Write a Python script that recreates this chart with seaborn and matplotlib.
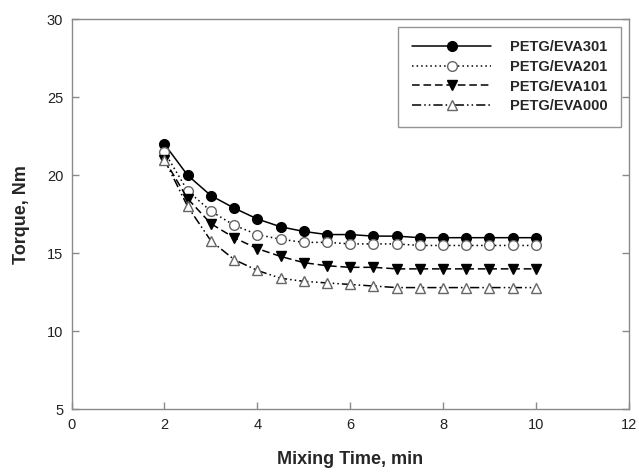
import matplotlib
matplotlib.use("Agg")
import matplotlib.pyplot as plt
import seaborn as sns
import pandas as pd

# Mixing time (min) and measured torque (Nm) for each blend
time_min = [2, 2.5, 3, 3.5, 4, 4.5, 5, 5.5, 6, 6.5, 7, 7.5, 8, 8.5, 9, 9.5, 10]
eva301 = [22.0, 20.0, 18.7, 17.9, 17.2, 16.7, 16.4, 16.2, 16.2, 16.1, 16.1, 16.0, 16.0, 16.0, 16.0, 16.0, 16.0]
eva201 = [21.5, 19.0, 17.7, 16.8, 16.2, 15.9, 15.7, 15.7, 15.6, 15.6, 15.6, 15.5, 15.5, 15.5, 15.5, 15.5, 15.5]
eva101 = [21.0, 18.5, 16.9, 16.0, 15.3, 14.8, 14.4, 14.2, 14.1, 14.1, 14.0, 14.0, 14.0, 14.0, 14.0, 14.0, 14.0]
eva000 = [21.0, 18.0, 15.8, 14.6, 13.9, 13.4, 13.2, 13.1, 13.0, 12.9, 12.8, 12.8, 12.8, 12.8, 12.8, 12.8, 12.8]

series_names = ["PETG/EVA301", "PETG/EVA201", "PETG/EVA101", "PETG/EVA000"]
series_values = [eva301, eva201, eva101, eva000]

sns.set_theme(style="white")
plt.rcParams["font.family"] = ["Liberation Sans", "DejaVu Sans"]

fig = plt.figure(figsize=(6.39, 4.72), dpi=100)
ax = fig.add_axes([0.112, 0.133, 0.872, 0.826])

styles = [
    dict(linestyle="-", marker="o", mfc="black", mec="black"),
    dict(linestyle=(0, (1, 2)), marker="o", mfc="white", mec="#666666"),
    dict(linestyle=(0, (5, 2.5)), marker="v", mfc="black", mec="black"),
    dict(linestyle=(0, (6, 2, 1, 2, 1, 2)), marker="^", mfc="white", mec="#666666"),
]

for name, vals, st in zip(series_names, series_values, styles):
    df = pd.DataFrame({"t": time_min, "torque": vals})
    sns.lineplot(data=df, x="t", y="torque", ax=ax, label=name, color="black",
                 linewidth=1.1, linestyle=st["linestyle"], marker=st["marker"],
                 markersize=7, markerfacecolor=st["mfc"], markeredgecolor=st["mec"],
                 markeredgewidth=1.0)

ax.set_xlim(0, 12)
ax.set_ylim(5, 30)
ax.set_xticks([0, 2, 4, 6, 8, 10, 12])
ax.set_yticks([5, 10, 15, 20, 25, 30])
ax.set_xlabel("Mixing Time, min", fontsize=13, fontweight="bold", labelpad=14)
ax.set_ylabel("Torque, Nm", fontsize=13, fontweight="bold", labelpad=12)

for side, sp in ax.spines.items():
    sp.set_visible(True)
    sp.set_color("#8a8a8a")
    sp.set_linewidth(1.0)

ax.tick_params(axis="both", which="major", direction="in", length=5, width=1,
               color="#8a8a8a", labelsize=10.5, labelcolor="#222222",
               bottom=True, left=True, right=True, top=False)
ax.tick_params(axis="y", labelright=False, pad=6)
ax.tick_params(axis="x", pad=6)

leg = ax.legend(loc="upper right", fontsize=10.5, handlelength=5.4,
                frameon=True, fancybox=False, borderaxespad=0.5,
                borderpad=0.95, labelspacing=0.38, handletextpad=1.3)
leg.get_frame().set_edgecolor("#7a7a7a")
leg.get_frame().set_linewidth(1.0)
for txt in leg.get_texts():
    txt.set_fontweight("bold")

fig.savefig("out.png", dpi=100)
